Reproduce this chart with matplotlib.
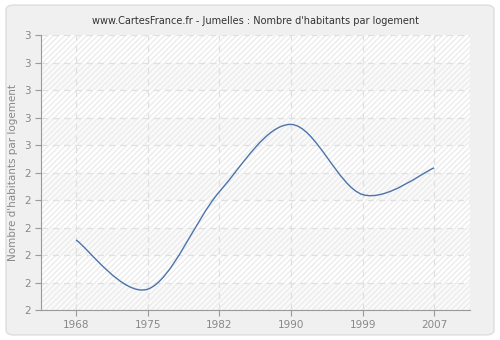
import matplotlib
matplotlib.use("Agg")
import matplotlib.pyplot as plt
from matplotlib.path import Path
from matplotlib.patches import PathPatch, FancyBboxPatch, Rectangle
import numpy as np

years = ["1968", "1975", "1982", "1990", "1999", "2007"]
values = [2.255, 2.076, 2.43, 2.675, 2.42, 2.517]
ytick_values = [2.0, 2.1, 2.2, 2.3, 2.4, 2.5, 2.6, 2.7, 2.8, 2.9, 3.0]
ytick_labels = ["2", "2", "2", "2", "2", "2", "3", "3", "3", "3", "3"]

title = "www.CartesFrance.fr - Jumelles : Nombre d'habitants par logement"
ylabel = "Nombre d'habitants par logement"

line_color = "#4a74aa"
text_color = "#888888"
grid_color = "#e0e0e0"


def smooth_path(xs, ys):
    # Catmull-Rom style curve turned into cubic bezier segments
    xs = np.asarray(xs, float)
    ys = np.asarray(ys, float)
    n = len(xs)
    verts = [(xs[0], ys[0])]
    codes = [Path.MOVETO]
    for i in range(n - 1):
        i0 = max(i - 1, 0)
        i3 = min(i + 2, n - 1)
        c1 = (xs[i] + (xs[i + 1] - xs[i0]) / 6, ys[i] + (ys[i + 1] - ys[i0]) / 6)
        c2 = (xs[i + 1] - (xs[i3] - xs[i]) / 6, ys[i + 1] - (ys[i3] - ys[i]) / 6)
        verts += [c1, c2, (xs[i + 1], ys[i + 1])]
        codes += [Path.CURVE4] * 3
    return Path(verts, codes)


fig = plt.figure(figsize=(5, 3.4), dpi=100)
fig.patch.set_facecolor("white")

# rounded grey frame behind everything
frame = FancyBboxPatch((0.012, 0.015), 0.976, 0.97,
                       boxstyle="round,pad=0,rounding_size=0.015",
                       transform=fig.transFigure, facecolor="#f0f0f0",
                       edgecolor="#dddddd", linewidth=1, zorder=-10)
fig.patches.append(frame)

ax = fig.add_axes([0.082, 0.088, 0.858, 0.809])
ax.set_facecolor("#fafafa")

x = np.arange(len(years))
ax.set_xlim(-0.49, 5.5)
ax.set_ylim(2.0, 3.0)

# alternating bands and hatch
for i in range(len(ytick_values) - 1):
    if i % 2 == 1:
        ax.add_patch(Rectangle((-0.49, ytick_values[i]), 6.0, 0.1,
                               facecolor="white", edgecolor="none", zorder=0))
hatch = Rectangle((0, 0), 1, 1, transform=ax.transAxes, facecolor="none",
                  edgecolor="#ececec", hatch="//////", linewidth=0, zorder=0.5)
ax.add_patch(hatch)

ax.set_xticks(x)
ax.set_xticklabels(years)
ax.set_yticks(ytick_values)
ax.set_yticklabels(ytick_labels)

ax.grid(True, color=grid_color, linestyle=(0, (5, 4)), linewidth=0.9)
ax.set_axisbelow(True)

ax.add_patch(PathPatch(smooth_path(x, values), facecolor="none",
                       edgecolor=line_color, linewidth=1.0, zorder=3))

for side in ["top", "right"]:
    ax.spines[side].set_visible(False)
for side in ["left", "bottom"]:
    ax.spines[side].set_color("#999999")
ax.tick_params(colors="#999999", labelcolor=text_color, labelsize=7.5,
               length=4, width=0.8)

ax.set_ylabel(ylabel, color=text_color, fontsize=7.5)
ax.set_title(title, color="#333333", fontsize=7, pad=8)

fig.savefig("out.png", dpi=100)
